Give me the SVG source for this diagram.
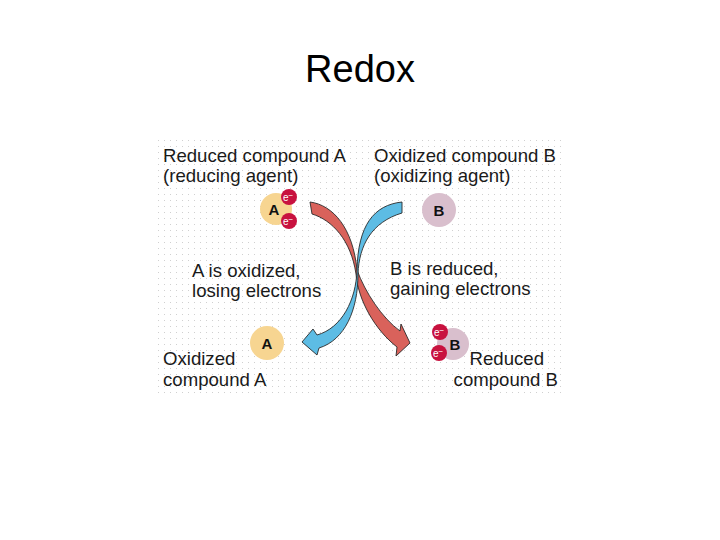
<svg xmlns="http://www.w3.org/2000/svg" width="720" height="540" viewBox="0 0 720 540">
<defs>
<pattern id="dots" x="0" y="0" width="6" height="6" patternUnits="userSpaceOnUse">
<rect x="2" y="2" width="1" height="1" fill="#d0d0d0"/>
</pattern>
<style>
.t{font-family:"Liberation Sans",Arial,sans-serif;font-size:18.6px;fill:#1a1a1a}
.lbl{font-family:"Liberation Sans",Arial,sans-serif;font-size:15px;font-weight:bold;fill:#111;text-anchor:middle}
.e{fill:#c8123f}
.et{font-family:"Liberation Sans",Arial,sans-serif;font-size:10px;fill:#fff;text-anchor:middle}
.oa{fill:#f7d591}
.pb{fill:#d9bfcd}
.arr{stroke:#2a2a2a;stroke-width:0.9;stroke-linejoin:round}
</style>
</defs>
<rect width="720" height="540" fill="#ffffff"/>
<text x="360" y="82" font-family="'Liberation Sans',Arial,sans-serif" font-size="38" fill="#000" text-anchor="middle">Redox</text>
<rect x="155" y="140" width="410" height="257" fill="url(#dots)"/>

<g id="labels">
<text class="t" x="163" y="162">Reduced compound A</text>
<text class="t" x="163" y="182">(reducing agent)</text>
<text class="t" x="374" y="162">Oxidized compound B</text>
<text class="t" x="374" y="182">(oxidizing agent)</text>
<text class="t" x="192" y="277">A is oxidized,</text>
<text class="t" x="192" y="297">losing electrons</text>
<text class="t" x="390" y="275">B is reduced,</text>
<text class="t" x="390" y="295">gaining electrons</text>
<text class="t" x="163" y="365">Oxidized</text>
<text class="t" x="163" y="386">compound A</text>
<text class="t" x="544" y="365" text-anchor="end">Reduced</text>
<text class="t" x="558" y="386" text-anchor="end">compound B</text>
</g>

<g id="connectors">
<path class="arr" fill="#d9625b" d="M310,202 C333,205 353,228 357,270 C365,292 382,318 400,331 L401,324 L410,343 L396,356 L397,347 C375,330 358,300 356,274 C351,240 332,220 312,214 Z"/>
<path class="arr" fill="#5dbce4" d="M402,202 C374,205 358,225 357,270 C356,300 342,328 317,335 L313,329 L302,342 L317,355 L319,348 C345,340 358,310 358,274 C359,245 372,222 402,213 Z"/>
</g>

<g id="node-A-reduced">
<circle class="oa" cx="276" cy="209" r="16"/>
<text class="lbl" x="274" y="215">A</text>
<circle class="e" cx="289" cy="197" r="8"/>
<text class="et" x="288" y="201">e<tspan dy="-3" font-size="8">−</tspan></text>
<circle class="e" cx="289" cy="221" r="8"/>
<text class="et" x="288" y="225">e<tspan dy="-3" font-size="8">−</tspan></text>
</g>

<g id="node-B-oxidized">
<circle class="pb" cx="439" cy="210" r="17"/>
<text class="lbl" x="439" y="216">B</text>
</g>

<g id="node-A-oxidized">
<circle class="oa" cx="267" cy="343" r="17"/>
<text class="lbl" x="267" y="349">A</text>
</g>

<g id="node-B-reduced">
<circle class="pb" cx="453" cy="344" r="16"/>
<text class="lbl" x="455" y="350">B</text>
<circle class="e" cx="440" cy="332" r="8"/>
<text class="et" x="439" y="336">e<tspan dy="-3" font-size="8">−</tspan></text>
<circle class="e" cx="439" cy="353" r="8"/>
<text class="et" x="438" y="357">e<tspan dy="-3" font-size="8">−</tspan></text>
</g>
</svg>
